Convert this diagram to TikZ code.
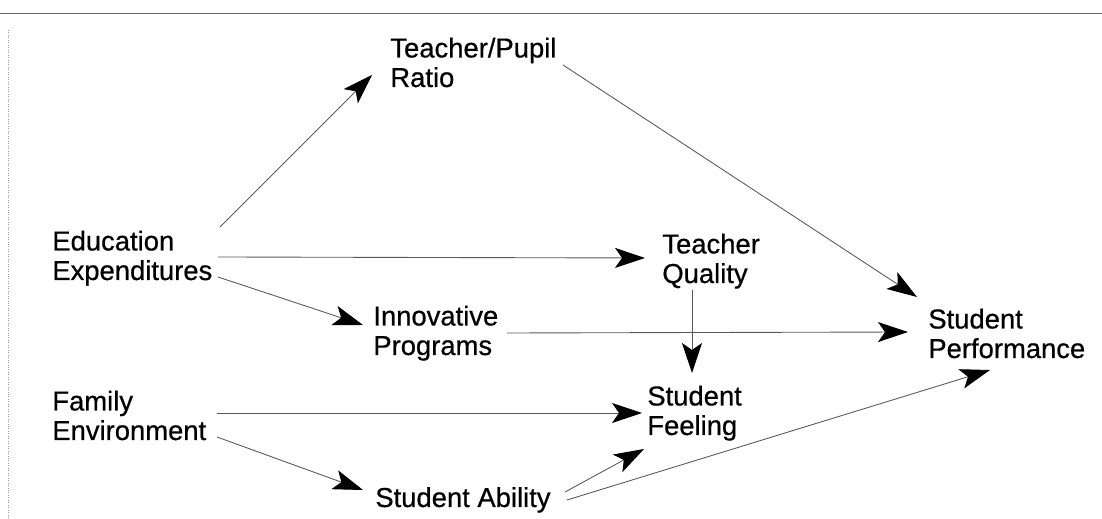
\documentclass[tikz,border=0pt]{standalone}
\usepackage{fontspec}
\setmainfont{Liberation Sans}
\newfontfamily\varfont{Liberation Sans}[FakeBold=0.6]
\usetikzlibrary{arrows.meta}
\begin{document}
\begin{tikzpicture}[x=0.02cm,y=-0.02cm,
        var/.style={align=left,inner sep=0pt,anchor=base west,
                font=\varfont\fontsize{15.6}{16.8}\selectfont},
        link/.style={-{Stealth[length=6mm,width=4mm,inset=1.4mm,black]},
                black!65,line width=0.5pt}]
                              \useasboundingbox (0,0) rectangle (1102,519);

                              % Frame
                              \draw[black!60] (0,13) -- (1102,13);
                              \draw[black!40,densely dotted] (8,30) -- (8,519);

                              % Variables (placed at the baseline of their last line)
                              \node[var] (ratio) at (390,87) {Teacher/Pupil\\Ratio};
                              \node[var] (edu) at (52,280) {Education\\Expenditures};
                              \node[var] (quality) at (662,283) {Teacher\\Quality};
                              \node[var] (innov) at (373,355) {Innovative\\Programs};
                              \node[var] (perf) at (928,358) {Student\\Performance};
                              \node[var] (family) at (52,440) {Family\\Environment};
                              \node[var] (feel) at (647,435) {Student\\Feeling};
                              \node[var] (ability) at (375,507) {Student Ability};

                              % Paths
                              \draw[link] ([shift={(168,-53)}]edu.base west) -- ([shift={(-18,-12)}]ratio.base west);
                              \draw[link] ([shift={(166,-23)}]edu.base west) -- ([shift={(-17,-25)}]quality.base west);
                              \draw[link] ([shift={(166,-3)}]edu.base west) -- ([shift={(-10,-30)}]innov.base west);
                              \draw[link] ([shift={(173,-22)}]ratio.base west) -- ([shift={(-11,-61)}]perf.base west);
                              \draw[link] ([shift={(30,7)}]quality.base west) -- ([shift={(45,-62)}]feel.base west);
                              \draw[link] ([shift={(134,-22)}]innov.base west) -- ([shift={(-20,-26)}]perf.base west);
                              \draw[link] ([shift={(165,-27)}]family.base west) -- ([shift={(-5,-22)}]feel.base west);
                              \draw[link] ([shift={(165,-3)}]family.base west) -- ([shift={(-12,-17)}]ability.base west);
                              \draw[link] ([shift={(190,-15)}]ability.base west) -- ([shift={(-3,14)}]feel.base west);
                              \draw[link] ([shift={(192,-7)}]ability.base west) -- ([shift={(62,12)}]perf.base west);
                        \end{tikzpicture}
\end{document}
